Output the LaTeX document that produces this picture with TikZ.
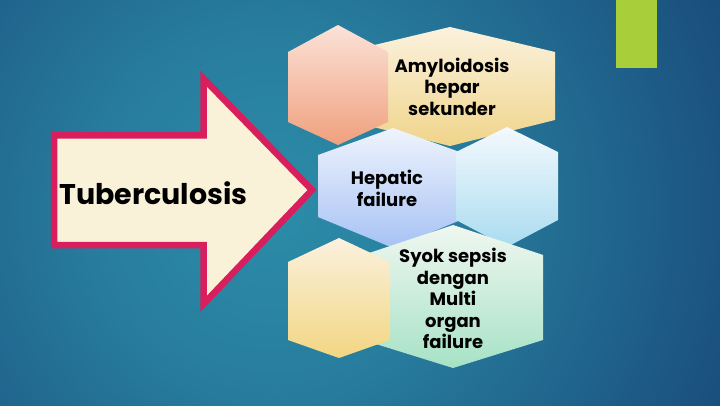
\documentclass[tikz,border=0pt]{standalone}
\usepackage{fontspec}
\setmainfont{Poppins}
\usepackage{xcolor}
\usepackage{tikz}
\usetikzlibrary{calc}
\definecolor{bgnavy}{RGB}{14, 40, 98}
\definecolor{bgteal}{RGB}{44, 140, 168}
\definecolor{tbpink}{RGB}{216, 30, 92}
\definecolor{tbcream}{RGB}{250, 242, 216}
\definecolor{limebar}{RGB}{168, 207, 58}
\definecolor{amytop}{RGB}{251, 242, 222}
\definecolor{amybot}{RGB}{240, 212, 138}
\definecolor{peachtop}{RGB}{251, 226, 216}
\definecolor{peachbot}{RGB}{240, 160, 126}
\definecolor{heptop}{RGB}{239, 244, 253}
\definecolor{hepbot}{RGB}{166, 194, 244}
\definecolor{skytop}{RGB}{244, 249, 253}
\definecolor{skybot}{RGB}{170, 220, 240}
\definecolor{minttop}{RGB}{240, 247, 240}
\definecolor{mintbot}{RGB}{166, 226, 198}
\definecolor{sandtop}{RGB}{251, 241, 222}
\definecolor{sandbot}{RGB}{242, 214, 130}
\pgfdeclareradialshading{slideglow}{\pgfpoint{0bp}{0bp}}{color(0bp)=(bgteal); color(9bp)=(bgteal!85!bgnavy); color(22bp)=(bgteal!45!bgnavy); color(38bp)=(bgnavy); color(50bp)=(bgnavy)}
% hexagon: centre x, half width, top, side top, side bottom, bottom, colour
\newcommand{\drawhex}[7]{\shade[top color=#7top, bottom color=#7bot] (#1,#3) -- (#1+#2,#4) -- (#1+#2,#5) -- (#1,#6) -- (#1-#2,#5) -- (#1-#2,#4) -- cycle;}
\tikzset{hextext/.style={font=\bfseries\fontsize{18}{21.5}\selectfont, align=center, text=black}}

\begin{document}
\begin{tikzpicture}[x=1pt,y=1pt]
\useasboundingbox (0,0) rectangle (720,405);
% Background
\fill[bgnavy] (0,0) rectangle (720,405);
\begin{scope}
\clip (0,0) rectangle (720,405);
\shade[shading=slideglow] (275,195) circle (500pt);
\end{scope}
\fill[limebar] (616,337) rectangle (657,405);

% Big arrow
\filldraw[fill=tbcream, draw=tbpink, line width=6.5pt, miter limit=10]
  (54,269.5) -- (203.5,269.5) -- (203.5,326.5) -- (312,215) -- (203.5,101)
  -- (203.5,160) -- (54,160) -- cycle;
\node[font=\bfseries\fontsize{28.5}{32}\selectfont] (tb) at (153.5,212) {Tuberculosis};

% Row 1
\drawhex{450}{105}{378}{353}{285}{259}{amy}
\drawhex{338}{50}{380}{353}{283}{260}{peach}
\node[hextext] (amy) at (452,318.5) {Amyloidosis\\hepar\\sekunder};

% Row 2
\drawhex{393}{75}{277}{250}{188}{157}{hep}
\drawhex{507}{51}{278}{253}{185}{158}{sky}
\node[hextext] (hep) at (387,216.5) {Hepatic\\failure};

% Row 3
\drawhex{453}{90}{180}{150}{65}{37}{mint}
\drawhex{339}{51}{167}{143}{65}{47}{sand}
\node[hextext] (syok) at (453,106.5) {Syok sepsis\\dengan\\Multi\\organ\\failure};
\end{tikzpicture}
\end{document}
